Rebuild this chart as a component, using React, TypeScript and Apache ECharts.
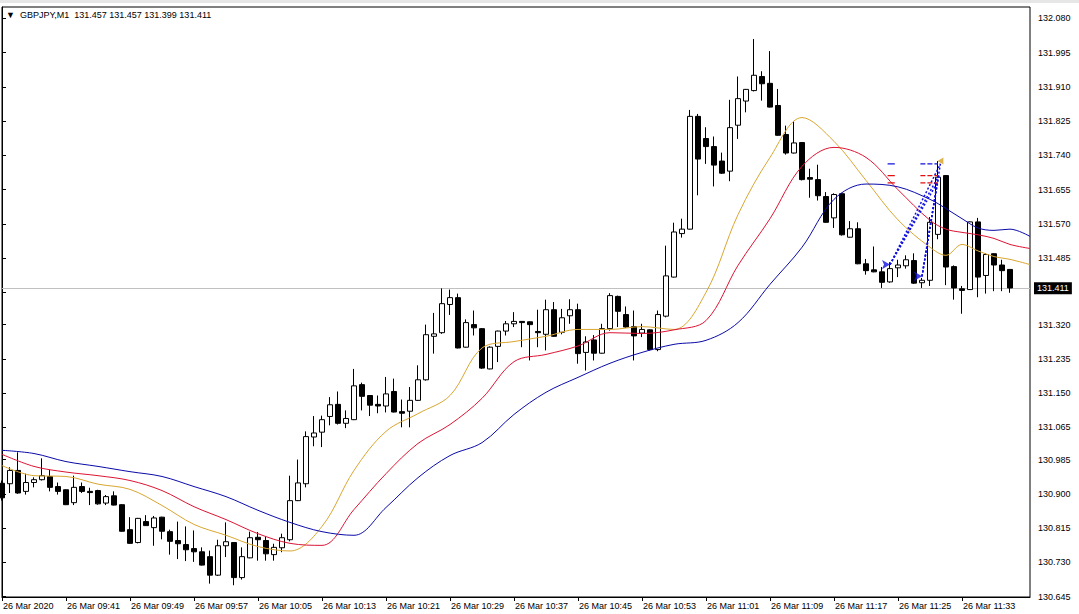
import React, { useEffect, useRef } from "react";
import * as echarts from "echarts";

// ---------- data ----------
const symbolName = "GBPJPY,M1";

// one candle per minute, 26 Mar 2020 09:33 .. 11:39
const opens = [
  130.926, 130.925, 130.958, 130.906, 130.928, 130.935, 130.943, 130.918, 130.910, 130.878,
  130.918, 130.906, 130.908, 130.877, 130.895, 130.873, 130.811, 130.779, 130.831, 130.816,
  130.842, 130.806, 130.784, 130.774, 130.764, 130.756, 130.744, 130.698, 130.771, 130.779,
  130.692, 130.741, 130.792, 130.784, 130.749, 130.766, 130.786, 130.883, 130.925, 131.041,
  131.053, 131.092, 131.122, 131.075, 131.084, 131.171, 131.144, 131.122, 131.118, 131.154,
  131.104, 131.105, 131.132, 131.183, 131.291, 131.300, 131.370, 131.387, 131.264, 131.320,
  131.310, 131.210, 131.266, 131.304, 131.322, 131.328, 131.327, 131.303, 131.296, 131.357,
  131.301, 131.342, 131.357, 131.251, 131.282, 131.249, 131.310, 131.390, 131.345, 131.315,
  131.299, 131.307, 131.258, 131.341, 131.438, 131.546, 131.557, 131.837, 131.782, 131.762,
  131.726, 131.701, 131.815, 131.875, 131.901, 131.936, 131.919, 131.864, 131.792, 131.746,
  131.772, 131.685, 131.680, 131.638, 131.585, 131.645, 131.537, 131.558, 131.471, 131.456,
  131.451, 131.426, 131.461, 131.466, 131.479, 131.424, 131.430, 131.544, 131.690, 131.464,
  131.409, 131.407, 131.575, 131.442, 131.496, 131.468, 131.457,
];
const highs = [
  130.933, 130.966, 131.003, 130.950, 130.941, 130.988, 130.960, 130.928, 130.911, 130.945,
  130.928, 130.915, 130.910, 130.897, 130.906, 130.874, 130.842, 130.840, 130.847, 130.845,
  130.843, 130.811, 130.831, 130.819, 130.809, 130.767, 130.759, 130.786, 130.829, 130.780,
  130.767, 130.806, 130.805, 130.794, 130.776, 130.801, 130.945, 130.985, 131.055, 131.093,
  131.094, 131.140, 131.154, 131.107, 131.210, 131.176, 131.145, 131.144, 131.190, 131.186,
  131.134, 131.165, 131.219, 131.320, 131.349, 131.410, 131.407, 131.397, 131.333, 131.355,
  131.311, 131.266, 131.305, 131.329, 131.351, 131.329, 131.328, 131.357, 131.382, 131.376,
  131.359, 131.383, 131.372, 131.291, 131.294, 131.322, 131.398, 131.392, 131.365, 131.355,
  131.322, 131.308, 131.355, 131.516, 131.573, 131.583, 131.853, 131.843, 131.810, 131.787,
  131.747, 131.878, 131.936, 131.905, 132.029, 131.949, 131.999, 131.905, 131.814, 131.825,
  131.773, 131.707, 131.717, 131.649, 131.646, 131.647, 131.577, 131.574, 131.483, 131.514,
  131.463, 131.475, 131.481, 131.492, 131.497, 131.436, 131.587, 131.726, 131.691, 131.467,
  131.416, 131.576, 131.585, 131.497, 131.497, 131.481, 131.457,
];
const lows = [
  130.883, 130.902, 130.900, 130.898, 130.916, 130.933, 130.906, 130.898, 130.872, 130.872,
  130.902, 130.872, 130.873, 130.872, 130.871, 130.806, 130.776, 130.777, 130.820, 130.771,
  130.787, 130.749, 130.738, 130.733, 130.731, 130.722, 130.677, 130.696, 130.743, 130.673,
  130.687, 130.740, 130.734, 130.734, 130.734, 130.755, 130.782, 130.882, 130.916, 131.018,
  131.016, 131.070, 131.072, 131.063, 131.083, 131.107, 131.093, 131.100, 131.102, 131.102,
  131.065, 131.065, 131.131, 131.181, 131.248, 131.297, 131.344, 131.261, 131.263, 131.293,
  131.210, 131.209, 131.227, 131.293, 131.314, 131.264, 131.231, 131.264, 131.256, 131.290,
  131.296, 131.322, 131.223, 131.206, 131.231, 131.248, 131.305, 131.314, 131.312, 131.231,
  131.289, 131.256, 131.254, 131.338, 131.437, 131.536, 131.556, 131.641, 131.719, 131.663,
  131.694, 131.676, 131.781, 131.847, 131.899, 131.876, 131.859, 131.789, 131.742, 131.745,
  131.678, 131.635, 131.628, 131.573, 131.560, 131.541, 131.536, 131.470, 131.444, 131.450,
  131.411, 131.424, 131.438, 131.459, 131.421, 131.411, 131.416, 131.532, 131.418, 131.382,
  131.347, 131.406, 131.388, 131.397, 131.403, 131.403, 131.399,
];
const closes = [
  130.890, 130.958, 130.902, 130.928, 130.935, 130.945, 130.916, 130.906, 130.873, 130.916,
  130.906, 130.903, 130.875, 130.893, 130.872, 130.807, 130.777, 130.839, 130.821, 130.840,
  130.807, 130.782, 130.776, 130.761, 130.756, 130.723, 130.698, 130.771, 130.781, 130.692,
  130.744, 130.791, 130.786, 130.751, 130.767, 130.791, 130.883, 130.927, 131.042, 131.051,
  131.084, 131.121, 131.075, 131.087, 131.168, 131.142, 131.120, 131.118, 131.148, 131.103,
  131.100, 131.132, 131.183, 131.295, 131.297, 131.372, 131.387, 131.262, 131.325, 131.312,
  131.212, 131.264, 131.304, 131.322, 131.328, 131.325, 131.320, 131.300, 131.357, 131.291,
  131.337, 131.357, 131.248, 131.277, 131.249, 131.310, 131.392, 131.353, 131.314, 131.292,
  131.308, 131.258, 131.345, 131.441, 131.550, 131.557, 131.837, 131.731, 131.762, 131.716,
  131.696, 131.809, 131.881, 131.904, 131.939, 131.918, 131.860, 131.790, 131.746, 131.771,
  131.680, 131.681, 131.640, 131.574, 131.643, 131.543, 131.558, 131.471, 131.454, 131.451,
  131.425, 131.459, 131.468, 131.481, 131.423, 131.430, 131.574, 131.686, 131.463, 131.411,
  131.405, 131.575, 131.438, 131.494, 131.468, 131.454, 131.411,
];

// moving averages read at these bar positions
const maIndex = [
  0, 4, 8, 12, 16, 20, 24, 28, 32, 36, 40, 44, 48, 52, 56, 60, 64, 68, 72, 76,
  80, 84, 88, 92, 96, 100, 104, 108, 112, 116, 118, 120, 122, 124, 126, 128.5,
];
const maGold = [
  130.970, 130.945, 130.943, 130.924, 130.911, 130.871, 130.824, 130.797, 130.769, 130.758,
  130.819, 130.958, 131.055, 131.099, 131.144, 131.262, 131.278, 131.291, 131.308, 131.308,
  131.315, 131.308, 131.400, 131.593, 131.735, 131.834, 131.775, 131.678, 131.580, 131.512,
  131.492, 131.519, 131.503, 131.489, 131.482, 131.469,
];
const maRed = [
  130.998, 130.968, 130.954, 130.945, 130.933, 130.908, 130.868, 130.836, 130.801, 130.777,
  130.772, 130.861, 130.950, 131.025, 131.072, 131.137, 131.228, 131.246, 131.267, 131.300,
  131.298, 131.307, 131.330, 131.467, 131.583, 131.713, 131.760, 131.735, 131.655, 131.579,
  131.557, 131.549, 131.543, 131.534, 131.519, 131.509,
];
const maBlue = [
  131.008, 131.000, 130.980, 130.968, 130.955, 130.943, 130.918, 130.893, 130.859, 130.829,
  130.806, 130.797, 130.866, 130.940, 130.995, 131.027, 131.097, 131.152, 131.189, 131.224,
  131.251, 131.271, 131.281, 131.325, 131.420, 131.512, 131.631, 131.669, 131.662, 131.631,
  131.608, 131.583, 131.560, 131.554, 131.557, 131.539,
];

// time axis labels (every 8 bars)
const timeTickIndex = [0, 8, 16, 24, 32, 40, 48, 56, 64, 72, 80, 88, 96, 104, 112, 120];
const timeLabels = [
  "26 Mar 2020", "26 Mar 09:41", "26 Mar 09:49", "26 Mar 09:57", "26 Mar 10:05", "26 Mar 10:13",
  "26 Mar 10:21", "26 Mar 10:29", "26 Mar 10:37", "26 Mar 10:45", "26 Mar 10:53", "26 Mar 11:01",
  "26 Mar 11:09", "26 Mar 11:17", "26 Mar 11:25", "26 Mar 11:33",
];

// price axis labels (the 131.400 level sits under the current-price box)
const priceLabels = [
  "130.645", "130.730", "130.815", "130.900", "130.985", "131.065", "131.150", "131.235", "131.320",
  "131.400", "131.485", "131.570", "131.655", "131.740", "131.825", "131.910", "131.995", "132.080",
];

const currentPrice = 131.411;

// trade history (open -> close)
const tradeOpenIndex = [111, 111, 111, 115, 115, 115];
const tradeOpenPrice = [131.469, 131.469, 131.469, 131.440, 131.440, 131.440];
const tradeCloseIndex = [117.3, 117.1, 116.9, 117.3, 117.1, 116.9];
const tradeClosePrice = [131.719, 131.690, 131.672, 131.719, 131.690, 131.672];
const closeMarkIndex = [117.3];
const closeMarkPrice = [131.726];
// order level marks
const levelPrices = [131.719, 131.690, 131.672];
const levelKinds = ["tp", "sl", "sl"];
const levelGroupFrom = [110.7, 114.8];
const levelGroupTo = [111.6, 117.0];

// ---------- styles ----------
const FONT = "'Liberation Sans', Arial, sans-serif";
const Y_MIN = 130.6438;
const Y_MAX = 132.1085;
const X_MIN = 0;
const X_MAX = 128.5;
const PRICE_BOX_HALF = 0.02;
const COLORS = {
  gold: "#d9a630",
  red: "#dc1434",
  blue: "#0a0aa8",
  trade: "#1010e0",
  tp: "#1010e0",
  sl: "#e01010",
  closeMark: "#d4a020",
};

function buildOption() {
  const candleRows = opens.map((o, i) => [i, o, closes[i], lows[i], highs[i]]);
  const last = opens.length - 1;
  const titleText =
    "\u25BC  " + symbolName + "  " +
    [opens[last], highs[last], lows[last], closes[last]].map((v) => v.toFixed(3)).join(" ");

  const maSeries = [
    { name: "maGold", vals: maGold, color: COLORS.gold },
    { name: "maRed", vals: maRed, color: COLORS.red },
    { name: "maBlue", vals: maBlue, color: COLORS.blue },
  ].map((m) => ({
    type: "line",
    name: m.name,
    data: maIndex.map((x, k) => [x, m.vals[k]]),
    showSymbol: false,
    smooth: 0.35,
    silent: true,
    z: 4,
    lineStyle: { color: m.color, width: 1 },
  }));

  const tradeSeries = tradeOpenIndex.map((oi, k) => ({
    type: "line",
    data: [
      [oi, tradeOpenPrice[k]],
      [tradeCloseIndex[k], tradeClosePrice[k]],
    ],
    showSymbol: false,
    silent: true,
    z: 5,
    lineStyle: { color: COLORS.trade, width: 1.5, type: [2, 2] },
  }));

  const levelSeries: any[] = [];
  levelGroupFrom.forEach((from, g) => {
    levelPrices.forEach((p, k) => {
      levelSeries.push({
        type: "line",
        data: [
          [from, p],
          [levelGroupTo[g], p],
        ],
        showSymbol: false,
        silent: true,
        z: 5,
        lineStyle: {
          color: levelKinds[k] === "tp" ? COLORS.tp : COLORS.sl,
          width: 1.2,
          type: g === 0 ? "solid" : [5, 2],
        },
      });
    });
  });

  const openPoints: number[][] = [];
  tradeOpenIndex.forEach((oi, k) => {
    if (!openPoints.some((p) => p[0] === oi && p[1] === tradeOpenPrice[k])) {
      openPoints.push([oi, tradeOpenPrice[k]]);
    }
  });

  const tickValues = priceLabels.map(Number);
  // labels hidden by the current-price box are not printed
  const labelValues = tickValues.filter((v) => Math.abs(v - currentPrice) > PRICE_BOX_HALF);

  return {
    animation: false,
    backgroundColor: "#ffffff",
    textStyle: { fontFamily: FONT },
    title: {
      text: titleText,
      left: 6,
      top: 10,
      padding: 0,
      textStyle: { fontFamily: FONT, fontSize: 9, fontWeight: "normal", color: "#000" },
    },
    graphic: [
      {
        type: "rect",
        left: 0,
        top: 0,
        shape: { width: 1079, height: 3 },
        style: { fill: "#e6e6e6" },
        silent: true,
      },
    ],
    grid: {
      left: 2,
      right: 49,
      top: 7,
      bottom: 17,
      show: true,
      borderColor: "#000",
      borderWidth: 1,
      backgroundColor: "#fff",
      containLabel: false,
      outerBoundsMode: "none",
    },
    xAxis: {
      type: "value",
      min: X_MIN,
      max: X_MAX,
      splitLine: { show: false },
      axisLine: { show: true, onZero: false, lineStyle: { color: "#000", width: 1 } },
      axisTick: {
        show: true,
        length: 4,
        customValues: timeTickIndex,
        lineStyle: { color: "#000" },
      },
      axisLabel: {
        show: true,
        customValues: timeTickIndex,
        formatter: (v: number) => {
          const k = timeTickIndex.indexOf(Math.round(v));
          return k >= 0 ? timeLabels[k] : "";
        },
        align: "left",
        margin: 4,
        padding: [0, 0, 0, 1],
        fontFamily: FONT,
        fontSize: 9,
        color: "#000",
      },
    },
    yAxis: {
      type: "value",
      position: "right",
      min: Y_MIN,
      max: Y_MAX,
      scale: true,
      splitLine: { show: false },
      axisLine: { show: true, lineStyle: { color: "#000", width: 1 } },
      axisTick: {
        show: true,
        length: 4,
        customValues: tickValues,
        lineStyle: { color: "#000" },
      },
      axisLabel: {
        show: true,
        customValues: labelValues,
        formatter: (v: number) => {
          const lab = priceLabels.find((l) => Math.abs(Number(l) - v) < 1e-6);
          return lab || "";
        },
        margin: 8,
        fontFamily: FONT,
        fontSize: 9,
        color: "#000",
      },
    },
    series: [
      {
        type: "candlestick",
        data: candleRows,
        encode: { x: 0, y: [1, 2, 3, 4] },
        barWidth: 5,
        clip: true,
        silent: true,
        z: 3,
        itemStyle: {
          color: "#ffffff",
          color0: "#000000",
          borderColor: "#000000",
          borderColor0: "#000000",
          borderWidth: 1,
        },
        markLine: {
          silent: true,
          symbol: ["none", "none"],
          animation: false,
          z: 2,
          lineStyle: { color: "#c0c0c0", width: 1, type: "solid" },
          label: {
            show: true,
            position: "end",
            distance: 4,
            formatter: () => currentPrice.toFixed(3),
            backgroundColor: "#000",
            color: "#fff",
            padding: [2, 3, 1, 3],
            fontFamily: FONT,
            fontSize: 9,
          },
          data: [{ yAxis: currentPrice }],
        },
      },
      ...maSeries,
      ...tradeSeries,
      ...levelSeries,
      {
        type: "scatter",
        data: openPoints,
        symbol: "arrow",
        symbolRotate: -90,
        symbolSize: [7, 8],
        silent: true,
        z: 6,
        itemStyle: { color: COLORS.trade },
      },
      {
        type: "scatter",
        data: closeMarkIndex.map((x, k) => [x, closeMarkPrice[k]]),
        symbol: "triangle",
        symbolRotate: 90,
        symbolSize: [7, 6],
        silent: true,
        z: 6,
        itemStyle: { color: COLORS.closeMark },
      },
    ],
  };
}

export default function App() {
  const ref = useRef<HTMLDivElement>(null);
  useEffect(() => {
    document.body.style.margin = "0";
    if (!ref.current) return;
    const chart = echarts.init(ref.current, null, { renderer: "svg" });
    chart.setOption(buildOption() as any);
    return () => {
      chart.dispose();
    };
  }, []);
  return <div ref={ref} style={{ width: 1079, height: 614 }} />;
}
